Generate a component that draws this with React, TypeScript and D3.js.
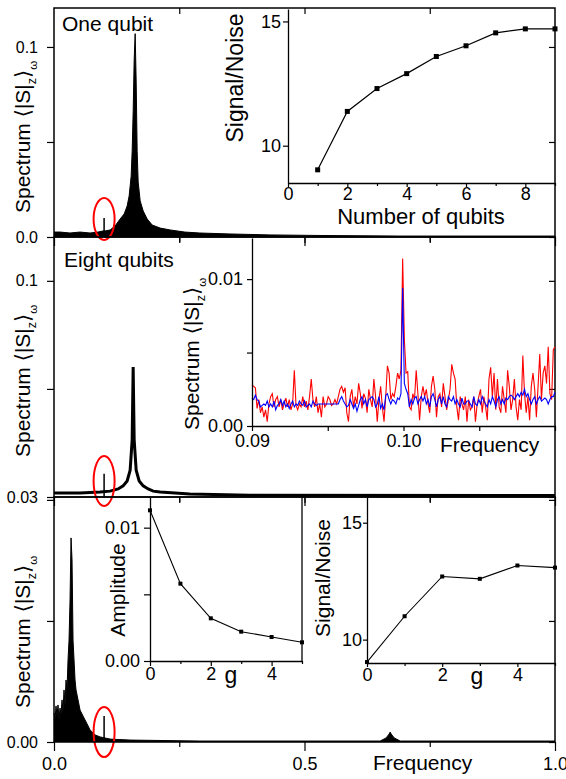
import React, { useEffect, useRef } from 'react';
import * as d3 from 'd3';

const FONT = '"Liberation Sans", Arial, Helvetica, sans-serif';
const SYM_FONT = '"DejaVu Sans", sans-serif';

// main spectra, upper envelope
const oneFreq = [0, 0.012, 0.032, 0.052, 0.072, 0.088, 0.098, 0.102, 0.112, 0.122, 0.132, 0.14, 0.146, 0.15, 0.154, 0.156, 0.158, 0.16, 0.162, 0.164, 0.166, 0.168, 0.172, 0.178, 0.186, 0.196, 0.212, 0.232, 0.261, 0.291, 0.351, 0.431, 0.531, 0.691, 1.0];
const oneAmp = [0.0026, 0.0026, 0.0021, 0.0026, 0.0021, 0.0026, 0.0032, 0.0032, 0.0037, 0.0058, 0.0095, 0.0121, 0.0163, 0.0216, 0.032, 0.045, 0.066, 0.093, 0.107, 0.082, 0.045, 0.029, 0.019, 0.0137, 0.0095, 0.0063, 0.0047, 0.0037, 0.0026, 0.0021, 0.0016, 0.0011, 0.0008, 0.0005, 0.0005];

const eightFreq = [0, 0.052, 0.092, 0.112, 0.128, 0.138, 0.146, 0.152, 0.156, 0.158, 0.16, 0.164, 0.17, 0.178, 0.188, 0.198, 0.212, 0.271, 0.391, 1.0];
const eightAmp = [0.0313, 0.0313, 0.0316, 0.0319, 0.0326, 0.0336, 0.0352, 0.0387, 0.0485, 0.0721, 0.0485, 0.0387, 0.0352, 0.0336, 0.0326, 0.0319, 0.0316, 0.031, 0.0306, 0.0305];

const gFreq = [0, 0.002, 0.004, 0.006, 0.008, 0.01, 0.012, 0.014, 0.016, 0.018, 0.02, 0.022, 0.024, 0.026, 0.028, 0.03, 0.032, 0.034, 0.036, 0.038, 0.04, 0.042, 0.044, 0.048, 0.052, 0.058, 0.064, 0.072, 0.082, 0.092, 0.112, 0.152, 0.291, 0.651, 0.663, 0.669, 0.671, 0.673, 0.679, 0.691, 1.0];
const gAmp = [0.012, 0.0091, 0.0149, 0.0107, 0.0153, 0.0091, 0.014, 0.0112, 0.0174, 0.0124, 0.0215, 0.0153, 0.0256, 0.0215, 0.0339, 0.042, 0.0587, 0.0843, 0.0752, 0.042, 0.0339, 0.0256, 0.0215, 0.0174, 0.0132, 0.0107, 0.0083, 0.005, 0.0029, 0.0021, 0.0012, 0.0008, 0.0004, 0.0004, 0.0017, 0.0033, 0.0041, 0.0033, 0.0017, 0.0004, 0.0004];

// the weak signal line at f = 0.1 and the red rings round it
const signalFreq = 0.1;
const spikeTop = [0.0100, 0.0375, 0.0107];
const ringCenter = [0.0095, 0.0352, 0.0041];
const ringRy = [21, 25, 25];

// zoom of the eight-qubit spectrum, 0.09 .. 0.11
const zoomRange = [0.09, 0.11];
const zoomRed = [
  0.0028, 0.0027, 0.0026, 0.0012, 0.0018, 0.0009, 0.0013, 0.0006, 0.0011, 0.0003,
  0.0015, 0.002, 0.0022, 0.0013, 0.0018, 0.002, 0.0013, 0.0018, 0.0011, 0.0015,
  0.0019, 0.0013, 0.0018, 0.0011, 0.0015, 0.0038, 0.0014, 0.0011, 0.0015, 0.0013,
  0.002, 0.0013, 0.0017, 0.0011, 0.002, 0.0032, 0.0018, 0.0013, 0.002, 0.0009,
  0.0015, 0.0006, 0.002, 0.0013, 0.0015, 0.002, 0.0018, 0.0014, 0.0015, 0.0018,
  0.0015, 0.002, 0.0025, 0.0027, 0.0023, 0.0026, 0.0009, 0.0003, 0.002, 0.0025,
  0.0013, 0.002, 0.0015, 0.0029, 0.0022, 0.0012, 0.0022, 0.0019, 0.0009, 0.0025,
  0.0018, 0.0013, 0.0032, 0.002, 0.0003, 0.0018, 0.0027, 0.0013, 0.0003, 0.002,
  0.0041, 0.0036, 0.0018, 0.0022, 0.002, 0.0027, 0.0036, 0.0032, 0.0038, 0.0114,
  0.0059, 0.0036, 0.0037, 0.0013, 0.0011, 0.0022, 0.0018, 0.0038, 0.0022, 0.0004,
  0.002, 0.0027, 0.002, 0.0025, 0.0015, 0.0009, 0.0027, 0.0034, 0.0025, 0.0006,
  0.002, 0.0022, 0.0013, 0.0029, 0.002, 0.0011, 0.0018, 0.0025, 0.0042, 0.0036,
  0.0032, 0.0013, 0.0004, 0.002, 0.0015, 0.0011, 0.002, 0.0003, 0.0018, 0.0011,
  0.0013, 0.002, 0.0003, 0.0015, 0.002, 0.0025, 0.0009, 0.002, 0.0013, 0.0004,
  0.0032, 0.004, 0.002, 0.0036, 0.0011, 0.0032, 0.0013, 0.0009, 0.0027, 0.0018,
  0.0009, 0.0038, 0.0027, 0.0011, 0.0018, 0.0032, 0.0013, 0.0004, 0.0018, 0.0011,
  0.0048, 0.0022, 0.0009, 0.002, 0.0004, 0.0027, 0.0036, 0.0025, 0.0006, 0.0027,
  0.0049, 0.0018, 0.0036, 0.0041, 0.0029, 0.0054, 0.0022, 0.0018, 0.0052, 0.0054,
];
const zoomBlue = [
  0.0019, 0.0018, 0.0021, 0.0018, 0.0017, 0.0013, 0.0014, 0.0015, 0.0014, 0.0017,
  0.0013, 0.0015, 0.0013, 0.0017, 0.0011, 0.0014, 0.0015, 0.0018, 0.0014, 0.0017,
  0.0013, 0.0015, 0.0012, 0.0015, 0.0017, 0.0013, 0.0015, 0.0014, 0.0017, 0.0015,
  0.0014, 0.0017, 0.0013, 0.0014, 0.0015, 0.0013, 0.0017, 0.0015, 0.0014, 0.0015,
  0.0015, 0.0015, 0.0015, 0.0015, 0.0015, 0.0015, 0.0015, 0.0015, 0.0015, 0.0015,
  0.0015, 0.0015, 0.0018, 0.002, 0.0017, 0.0015, 0.0013, 0.0014, 0.0018, 0.0015,
  0.0012, 0.0015, 0.001, 0.0014, 0.0018, 0.002, 0.0015, 0.0018, 0.0013, 0.0018,
  0.0019, 0.002, 0.0018, 0.0013, 0.0015, 0.002, 0.0012, 0.0015, 0.0011, 0.0021,
  0.0022, 0.0018, 0.0015, 0.0018, 0.0017, 0.0015, 0.0019, 0.0018, 0.0022, 0.0094,
  0.0029, 0.0025, 0.0022, 0.0013, 0.0018, 0.0015, 0.0019, 0.002, 0.0015, 0.0018,
  0.002, 0.0017, 0.002, 0.0015, 0.0018, 0.0013, 0.002, 0.0022, 0.0018, 0.0013,
  0.0018, 0.002, 0.0015, 0.002, 0.0015, 0.0013, 0.002, 0.0018, 0.0017, 0.002,
  0.0015, 0.0018, 0.0015, 0.0013, 0.0019, 0.0015, 0.0015, 0.0017, 0.0017, 0.0015,
  0.0013, 0.002, 0.0015, 0.0014, 0.0018, 0.0015, 0.002, 0.0017, 0.0015, 0.0013,
  0.0018, 0.0015, 0.002, 0.0017, 0.0013, 0.0018, 0.002, 0.0015, 0.0018, 0.0015,
  0.0019, 0.0018, 0.002, 0.0021, 0.002, 0.0018, 0.002, 0.0022, 0.002, 0.0023,
  0.0021, 0.0025, 0.002, 0.0022, 0.0018, 0.0015, 0.0018, 0.002, 0.0015, 0.0018,
  0.002, 0.0017, 0.0018, 0.0019, 0.0018, 0.0015, 0.0018, 0.002, 0.002, 0.0023,
];

// insets
const qubits = [1, 2, 3, 4, 5, 6, 7, 8, 9];
const snQubits = [9.03, 11.38, 12.3, 12.9, 13.59, 14.02, 14.54, 14.7, 14.7];
const gValues = [0, 1, 2, 3, 4, 5];
const ampG = [0.0113, 0.0058, 0.0032, 0.0022, 0.0018, 0.0014];
const snG = [9.04, 11.0, 12.7, 12.6, 13.17, 13.08];

const intFmt = d3.format('d');

const styleAxis = (g: any, fs: number) => {
  g.attr('font-family', FONT).attr('font-size', fs);
  g.selectAll('line').attr('stroke-width', 1.2);
  g.select('.domain').attr('stroke-width', 1.3);
};

const specLabel = (svg: any, tx: number, ty: number, fs: number) => {
  const t = svg
    .append('text')
    .attr('transform', `translate(${tx},${ty}) rotate(-90)`)
    .attr('font-family', FONT)
    .attr('font-size', fs);
  t.append('tspan').text('Spectrum ');
  t.append('tspan').attr('font-family', SYM_FONT).text('\u27E8');
  t.append('tspan').text('|S|');
  t.append('tspan').attr('font-size', fs * 0.6).attr('dy', fs * 0.28).text('z');
  t.append('tspan').attr('font-family', SYM_FONT).attr('dy', -fs * 0.28).text('\u27E9');
  t.append('tspan').attr('font-size', fs * 0.55).attr('dy', fs * 0.32).text('\u03C9');
};

function App() {
  const svgRef = useRef<SVGSVGElement>(null);

  useEffect(() => {
    document.body.style.margin = '0';
    const svg = d3.select(svgRef.current);
    svg.selectAll('*').remove();
    svg.append('rect').attr('width', 566).attr('height', 779).attr('fill', 'white');

    const x = d3.scaleLinear().domain([0, 1]).range([54, 555]);

    const panels = [
      { top: 8, bottom: 237, domain: [0, 0.1205], ticks: [0, 0.05, 0.1], labels: ['0.0', '', '0.1'], freq: oneFreq, amp: oneAmp, fill: true, title: 'One qubit', titleY: 31, labelY: 213 },
      { top: 237, bottom: 497, domain: [0.03, 0.1142], ticks: [0.03, 0.065, 0.1], labels: ['0.03', '', '0.1'], freq: eightFreq, amp: eightAmp, fill: false, title: 'Eight qubits', titleY: 267, labelY: 457 },
      { top: 497, bottom: 742, domain: [0, 0.1012], ticks: [0, 0.05, 0.1], labels: ['0.00', '', ''], freq: gFreq, amp: gAmp, fill: true, title: '', titleY: 0, labelY: 708 },
    ];

    panels.forEach((p, i) => {
      const y = d3.scaleLinear().domain(p.domain).range([p.bottom, p.top]);
      const g = svg.append('g');
      const pts = p.freq.map((f, k) => [f, p.amp[k]] as [number, number]);

      if (p.fill) {
        g.append('path')
          .datum(pts)
          .attr('d', d3.area<[number, number]>().x((d) => x(d[0])).y0(y(p.domain[0])).y1((d) => y(d[1])))
          .attr('fill', 'black');
        g.append('path')
          .datum(pts)
          .attr('d', d3.line<[number, number]>().x((d) => x(d[0])).y((d) => y(d[1])))
          .attr('fill', 'none')
          .attr('stroke', 'black')
          .attr('stroke-width', 1);
      } else {
        g.append('path')
          .datum(pts)
          .attr('d', d3.line<[number, number]>().x((d) => x(d[0])).y((d) => y(d[1])))
          .attr('fill', 'none')
          .attr('stroke', 'black')
          .attr('stroke-width', 3);
      }

      // weak signal
      g.append('line')
        .attr('x1', x(signalFreq)).attr('x2', x(signalFreq))
        .attr('y1', y(p.domain[0])).attr('y2', y(spikeTop[i]))
        .attr('stroke', 'black').attr('stroke-width', 1.5);
      g.append('ellipse')
        .attr('cx', x(signalFreq))
        .attr('cy', y(ringCenter[i]))
        .attr('rx', 10.5)
        .attr('ry', ringRy[i])
        .attr('fill', 'none')
        .attr('stroke', '#ff0000')
        .attr('stroke-width', 2);

      // frame
      g.append('rect')
        .attr('x', 54).attr('y', p.top)
        .attr('width', 501).attr('height', p.bottom - p.top)
        .attr('fill', 'none').attr('stroke', 'black').attr('stroke-width', 1.5);

      g.append('g')
        .attr('transform', 'translate(54,0)')
        .call(d3.axisLeft(y).tickValues(p.ticks).tickSize(7).tickPadding(9).tickSizeOuter(0).tickFormat((d, k) => p.labels[k]))
        .call((a: any) => a.select('.domain').remove())
        .call((a: any) => styleAxis(a, 16));
      g.append('g')
        .attr('transform', 'translate(555,0)')
        .call(d3.axisRight(y).tickValues(p.ticks).tickSize(-6).tickSizeOuter(0).tickFormat(() => ''))
        .call((a: any) => a.select('.domain').remove())
        .call((a: any) => styleAxis(a, 16));
      g.append('g')
        .attr('transform', `translate(0,${p.top})`)
        .call(d3.axisTop(x).tickValues([0.25, 0.5, 0.75]).tickSize(-6).tickSizeOuter(0).tickFormat(() => ''))
        .call((a: any) => a.select('.domain').remove())
        .call((a: any) => styleAxis(a, 16));
      const last = i === panels.length - 1;
      g.append('g')
        .attr('transform', `translate(0,${p.bottom})`)
        .call(d3.axisBottom(x).tickValues([0, 0.5, 1]).tickSize(9).tickPadding(6).tickSizeOuter(0).tickFormat((d) => (last ? d3.format('.1f')(d as number) : '')))
        .call((a: any) => a.select('.domain').remove())
        .call((a: any) => styleAxis(a, 18));
      g.append('g')
        .attr('transform', `translate(0,${p.bottom})`)
        .call(d3.axisBottom(x).tickValues([0.25, 0.75]).tickSize(5).tickSizeOuter(0).tickFormat(() => ''))
        .call((a: any) => a.select('.domain').remove())
        .call((a: any) => styleAxis(a, 18));

      if (p.title) {
        svg.append('text').attr('x', i === 0 ? 62 : 64).attr('y', p.titleY)
          .attr('font-family', FONT).attr('font-size', 21).text(p.title);
      }
      specLabel(svg, 30, p.labelY, 21);
    });

    svg.append('text').attr('x', 373).attr('y', 770)
      .attr('font-family', FONT).attr('font-size', 21).text('Frequency');

    // ---- inset 1: signal/noise vs number of qubits
    const xi1 = d3.scaleLinear().domain([0, 9]).range([288, 555]);
    const yi1 = d3.scaleLinear().domain([8.5, 15.5]).range([183, 9]);
    svg.append('g').attr('transform', 'translate(288,0)')
      .call(d3.axisLeft(yi1).tickValues([10, 15]).tickSize(5).tickPadding(2).tickSizeOuter(0).tickFormat(intFmt as any))
      .call((a: any) => styleAxis(a, 18));
    svg.append('g').attr('transform', 'translate(0,183)')
      .call(d3.axisBottom(xi1).tickValues([0, 2, 4, 6, 8]).tickSize(4).tickPadding(0).tickSizeOuter(0).tickFormat(intFmt as any))
      .call((a: any) => styleAxis(a, 18));
    svg.append('g').attr('transform', 'translate(0,183)')
      .call(d3.axisBottom(xi1).tickValues([1, 3, 5, 7, 9]).tickSize(3).tickSizeOuter(0).tickFormat(() => ''))
      .call((a: any) => a.select('.domain').remove())
      .call((a: any) => styleAxis(a, 18));
    svg.append('path')
      .datum(qubits.map((q, k) => [q, snQubits[k]] as [number, number]))
      .attr('d', d3.line<[number, number]>().x((d) => xi1(d[0])).y((d) => yi1(d[1])))
      .attr('fill', 'none').attr('stroke', 'black').attr('stroke-width', 1.2);
    svg.append('g').selectAll('rect').data(qubits).join('rect')
      .attr('x', (q) => xi1(q) - 2.5).attr('y', (q, k) => yi1(snQubits[k]) - 2.5)
      .attr('width', 5).attr('height', 5).attr('fill', 'black');
    svg.append('text').attr('transform', 'translate(243,78) rotate(-90)')
      .attr('text-anchor', 'middle').attr('font-family', FONT).attr('font-size', 23).text('Signal/Noise');
    svg.append('text').attr('x', 421).attr('y', 224)
      .attr('text-anchor', 'middle').attr('font-family', FONT).attr('font-size', 22).text('Number of qubits');

    // ---- inset 2: zoom around the signal
    const xi2 = d3.scaleLinear().domain(zoomRange).range([252, 555]);
    const yi2 = d3.scaleLinear().domain([0, 0.0128]).range([426, 238]);
    const bin = d3.scaleLinear().domain([0, zoomRed.length - 1]).range(zoomRange);
    const zoomLine = d3.line<number>().x((d, k) => xi2(bin(k))).y((d) => yi2(d));
    svg.append('path').datum(zoomRed).attr('d', zoomLine)
      .attr('fill', 'none').attr('stroke', '#ff0000').attr('stroke-width', 1.1);
    svg.append('path').datum(zoomBlue).attr('d', zoomLine)
      .attr('fill', 'none').attr('stroke', '#0000ff').attr('stroke-width', 1.1);
    svg.append('g').attr('transform', 'translate(252,0)')
      .call(d3.axisLeft(yi2).tickValues([0, 0.005, 0.01]).tickSize(5).tickPadding(4).tickSizeOuter(0)
        .tickFormat((d) => (d === 0 ? '0.00' : d === 0.01 ? '0.01' : '')))
      .call((a: any) => styleAxis(a, 18));
    svg.append('g').attr('transform', 'translate(0,426)')
      .call(d3.axisBottom(xi2).tickValues([0.09, 0.095, 0.1, 0.105, 0.11]).tickSize(5).tickPadding(3).tickSizeOuter(0)
        .tickFormat((d) => (d === 0.09 ? '0.09' : d === 0.1 ? '0.10' : '')))
      .call((a: any) => styleAxis(a, 18));
    svg.append('text').attr('x', 440).attr('y', 452)
      .attr('font-family', FONT).attr('font-size', 21).text('Frequency');
    specLabel(svg, 199, 430, 21);

    // ---- inset 3a: amplitude vs g
    const xa = d3.scaleLinear().domain([0, 5]).range([150, 302]);
    const ya = d3.scaleLinear().domain([0, 0.0123]).range([661, 497]);
    svg.append('g').attr('transform', 'translate(150,0)')
      .call(d3.axisLeft(ya).tickValues([0, 0.005, 0.01]).tickSize(6).tickPadding(4).tickSizeOuter(0)
        .tickFormat((d) => (d === 0 ? '0.00' : d === 0.01 ? '0.01' : '')))
      .call((a: any) => styleAxis(a, 18));
    svg.append('g').attr('transform', 'translate(0,661)')
      .call(d3.axisBottom(xa).tickValues([0, 2, 4]).tickSize(5).tickPadding(1).tickSizeOuter(0).tickFormat(intFmt as any))
      .call((a: any) => styleAxis(a, 18));
    svg.append('g').attr('transform', 'translate(0,661)')
      .call(d3.axisBottom(xa).tickValues([1, 3, 5]).tickSize(3).tickSizeOuter(0).tickFormat(() => ''))
      .call((a: any) => a.select('.domain').remove())
      .call((a: any) => styleAxis(a, 18));
    svg.append('line').attr('x1', xa(5)).attr('x2', xa(5)).attr('y1', 497).attr('y2', 661)
      .attr('stroke', 'black').attr('stroke-width', 1.3);
    svg.append('path')
      .datum(gValues.map((v, k) => [v, ampG[k]] as [number, number]))
      .attr('d', d3.line<[number, number]>().x((d) => xa(d[0])).y((d) => ya(d[1])))
      .attr('fill', 'none').attr('stroke', 'black').attr('stroke-width', 1.1);
    svg.append('g').selectAll('rect').data(gValues).join('rect')
      .attr('x', (v) => xa(v) - 2).attr('y', (v, k) => ya(ampG[k]) - 2)
      .attr('width', 4).attr('height', 4).attr('fill', 'black');
    svg.append('text').attr('transform', 'translate(125,590) rotate(-90)')
      .attr('text-anchor', 'middle').attr('font-family', FONT).attr('font-size', 21).text('Amplitude');
    svg.append('text').attr('x', 231).attr('y', 683)
      .attr('text-anchor', 'middle').attr('font-family', FONT).attr('font-size', 23).text('g');

    // ---- inset 3b: signal/noise vs g
    const xs = d3.scaleLinear().domain([0, 5]).range([367, 555]);
    const ys = d3.scaleLinear().domain([9, 16.1]).range([663, 497]);
    svg.append('g').attr('transform', 'translate(367,0)')
      .call(d3.axisLeft(ys).tickValues([10, 15]).tickSize(4).tickPadding(1).tickSizeOuter(0).tickFormat(intFmt as any))
      .call((a: any) => styleAxis(a, 18));
    svg.append('g').attr('transform', 'translate(0,663)')
      .call(d3.axisBottom(xs).tickValues([0, 2, 4]).tickSize(4).tickPadding(1).tickSizeOuter(0).tickFormat(intFmt as any))
      .call((a: any) => styleAxis(a, 18));
    svg.append('g').attr('transform', 'translate(0,663)')
      .call(d3.axisBottom(xs).tickValues([1, 3, 5]).tickSize(3).tickSizeOuter(0).tickFormat(() => ''))
      .call((a: any) => a.select('.domain').remove())
      .call((a: any) => styleAxis(a, 18));
    svg.append('path')
      .datum(gValues.map((v, k) => [v, snG[k]] as [number, number]))
      .attr('d', d3.line<[number, number]>().x((d) => xs(d[0])).y((d) => ys(d[1])))
      .attr('fill', 'none').attr('stroke', 'black').attr('stroke-width', 1.1);
    svg.append('g').selectAll('rect').data(gValues).join('rect')
      .attr('x', (v) => xs(v) - 2).attr('y', (v, k) => ys(snG[k]) - 2)
      .attr('width', 4).attr('height', 4).attr('fill', 'black');
    svg.append('text').attr('transform', 'translate(330,578) rotate(-90)')
      .attr('text-anchor', 'middle').attr('font-family', FONT).attr('font-size', 21).text('Signal/Noise');
    svg.append('text').attr('x', 477).attr('y', 684)
      .attr('text-anchor', 'middle').attr('font-family', FONT).attr('font-size', 23).text('g');
  }, []);

  return <svg ref={svgRef} width={566} height={779} style={{ display: 'block' }} />;
}

export default App;
